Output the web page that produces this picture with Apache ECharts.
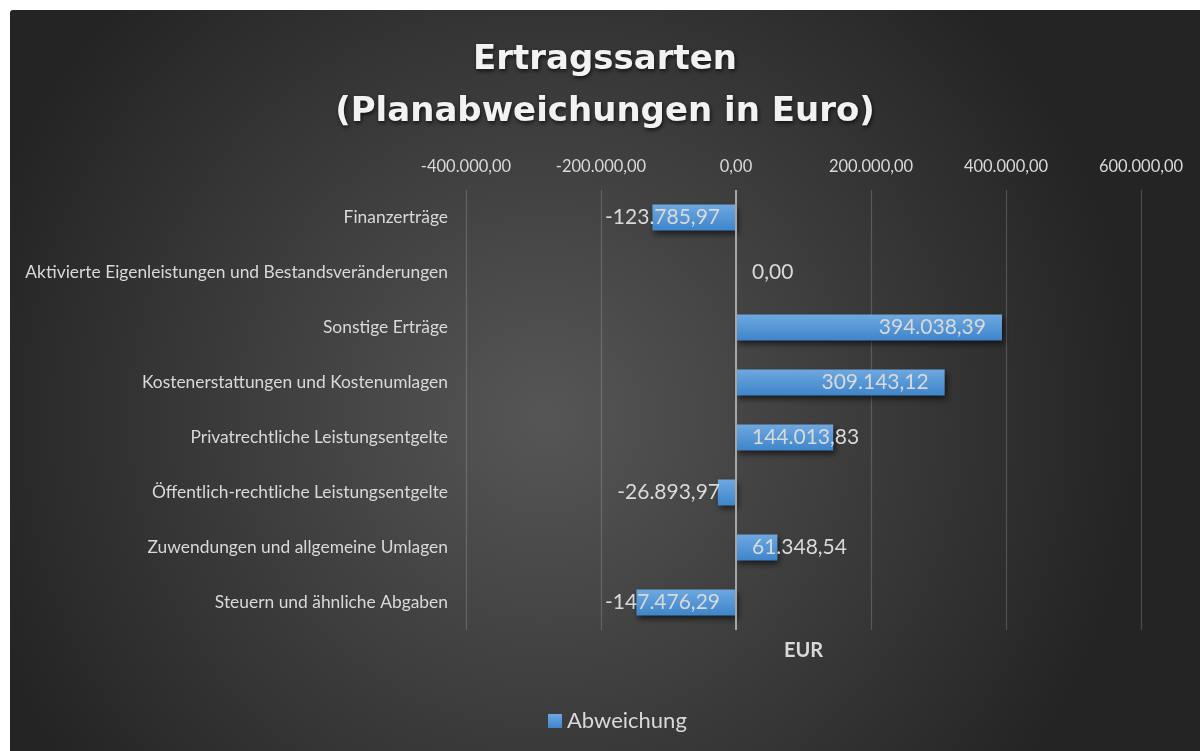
<!DOCTYPE html>
<html>
<head>
<meta charset="utf-8">
<script src="https://cdn.jsdelivr.net/npm/echarts@6/dist/echarts.min.js"></script>
<style>
html,body{margin:0;padding:0;background:#fff;width:1200px;height:751px;overflow:hidden;}
#chart{position:absolute;left:10px;top:10px;width:1190px;height:741px;border-top-left-radius:3px;overflow:hidden;}
</style>
</head>
<body>
<div id="chart"></div>
<script>
const categories = [
  'Finanzerträge',
  'Aktivierte Eigenleistungen und Bestandsveränderungen',
  'Sonstige Erträge',
  'Kostenerstattungen und Kostenumlagen',
  'Privatrechtliche Leistungsentgelte',
  'Öffentlich-rechtliche Leistungsentgelte',
  'Zuwendungen und allgemeine Umlagen',
  'Steuern und ähnliche Abgaben'
];
const abweichung = [-123785.97, 0.00, 394038.39, 309143.12, 144013.83, -26893.97, 61348.54, -147476.29];
const xTicks = [-400000, -200000, 0, 200000, 400000, 600000];
const seriesName = 'Abweichung';
const titleText = 'Ertragssarten\n(Planabweichungen in Euro)';
const axisTitle = 'EUR';

function fmtDE(v) {
  const neg = v < 0;
  const s = Math.abs(v).toFixed(2);
  let [ip, dp] = s.split('.');
  ip = ip.replace(/\B(?=(\d{3})+(?!\d))/g, '.');
  return (neg ? '-' : '') + ip + ',' + dp;
}

const txt = '#d9d9d9';
const barColor = new echarts.graphic.LinearGradient(0, 0, 0, 1, [
  {offset: 0, color: '#6ea8e0'},
  {offset: 1, color: '#3e85cb'}
]);

const chart = echarts.init(document.getElementById('chart'));
chart.setOption({
  backgroundColor: new echarts.graphic.RadialGradient(0.45, 0.55, 0.8, [
    {offset: 0, color: '#565656'},
    {offset: 1, color: '#242424'}
  ]),
  animation: false,
  title: {
    text: titleText,
    left: 'center',
    top: 19,
    textStyle: {
      fontFamily: 'DejaVu Sans',
      fontWeight: 'bold',
      fontSize: 34,
      lineHeight: 52,
      color: '#f2f2f2',
      textShadowColor: 'rgba(0,0,0,0.7)',
      textShadowBlur: 4,
      textShadowOffsetX: 1,
      textShadowOffsetY: 2
    }
  },
  legend: {
    data: [seriesName],
    left: 533,
    top: 695,
    itemWidth: 14,
    itemHeight: 14,
    itemGap: 5,
    icon: 'rect',
    textStyle: {color: txt, fontFamily: 'Lato', fontSize: 22, padding: [0,0,0,0]}
  },
  grid: {left: 456, right: 59, top: 180, height: 440, containLabel: false},
  xAxis: [{
    type: 'value',
    position: 'top',
    min: xTicks[0],
    max: xTicks[xTicks.length - 1],
    interval: xTicks[1] - xTicks[0],
    axisLine: {show: false},
    axisTick: {show: false},
    splitLine: {show: true, lineStyle: {color: 'rgba(217,217,217,0.22)', width: 1.2}},
    axisLabel: {
      color: txt, fontFamily: 'Lato', fontSize: 16.5, margin: 15,
      formatter: v => fmtDE(v)
    }
  }, {
    type: 'value',
    position: 'bottom',
    min: xTicks[0],
    max: xTicks[xTicks.length - 1],
    axisLine: {show: false},
    axisTick: {show: false},
    splitLine: {show: false},
    axisLabel: {show: false},
    name: axisTitle,
    nameLocation: 'middle',
    nameGap: 11,
    nameTextStyle: {color: txt, fontFamily: 'Lato', fontWeight: 'bold', fontSize: 20, verticalAlign: 'top'}
  }],
  yAxis: {
    type: 'category',
    inverse: true,
    data: categories,
    axisLine: {show: false, onZero: false},
    axisTick: {show: false},
    axisLabel: {color: txt, fontFamily: 'Lato', fontSize: 17.4, margin: 18}
  },
  series: [{
    name: seriesName,
    type: 'bar',
    barWidth: 26,
    itemStyle: {
      color: barColor,
      shadowColor: 'rgba(0,0,0,0.6)',
      shadowBlur: 6,
      shadowOffsetX: 2,
      shadowOffsetY: 3
    },
    data: abweichung.map(v => {
      const atEnd = v > 250000;
      return {
        value: v,
        label: {
          position: (v < 0 || atEnd) ? 'insideRight' : 'insideLeft',
          distance: 16
        }
      };
    }),
    label: {
      show: true,
      color: txt,
      fontFamily: 'Lato',
      fontSize: 21,
      formatter: p => fmtDE(p.value)
    },
    markLine: {
      silent: true,
      symbol: 'none',
      label: {show: false},
      lineStyle: {color: '#a6a6a6', width: 2, type: 'solid'},
      data: [{xAxis: 0}]
    }
  }]
});
</script>
</body>
</html>
